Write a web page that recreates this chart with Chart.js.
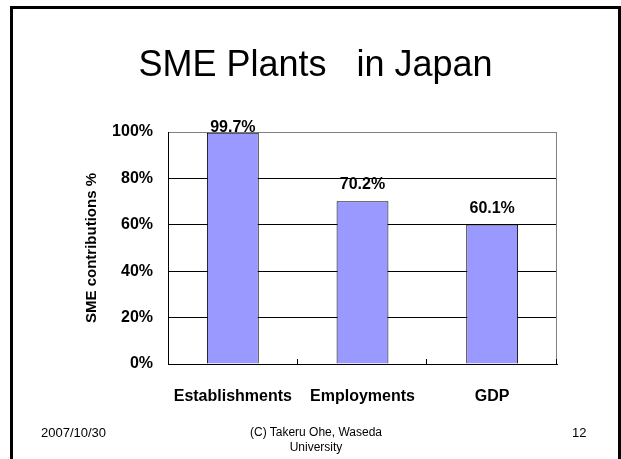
<!DOCTYPE html>
<html>
<head>
<meta charset="utf-8">
<script src="https://cdn.jsdelivr.net/npm/chart.js@4/dist/chart.umd.min.js"></script>
<style>
    body { margin: 0; background: #fff; font-family: 'Liberation Sans', Arial, sans-serif; }
    #slide { position: relative; width: 621px; height: 459px; overflow: hidden; }
    #frame { position: absolute; left: 10px; top: 6px; width: 611px; height: 520px; border: 3px solid #000; box-sizing: border-box; }
    #chart { position: absolute; left: 0; top: 0; }
    .txt { position: absolute; white-space: nowrap; color: #000; }
    #title { left: 0; width: 631px; text-align: center; top: 46px; font-size: 36px; line-height: 36px; }
    #date { left: 41px; top: 425px; font-size: 13px; line-height: 15px; }
    #credit { left: 216px; width: 200px; text-align: center; top: 425px; font-size: 12px; line-height: 15px; }
    #page { left: 572px; top: 425px; font-size: 13px; line-height: 15px; }
</style>
</head>
<body>
<div id="slide">
    <div id="frame"></div>
    <canvas id="chart" width="621" height="459"></canvas>
    <div class="txt" id="title">SME Plants&nbsp;&nbsp;&nbsp;in Japan</div>
    <div class="txt" id="date">2007/10/30</div>
    <div class="txt" id="credit">(C) Takeru Ohe, Waseda<br>University</div>
    <div class="txt" id="page">12</div>
</div>
<script>
const categories = ['Establishments', 'Employments', 'GDP'];
const smeShare = [99.7, 70.2, 60.1];
const yTicks = [0, 20, 40, 60, 80, 100];

const fontFamily = "'Liberation Sans', Arial, sans-serif";

// value labels above each bar
const valueLabels = {
    id: 'valueLabels',
    afterDatasetsDraw(chart) {
        const ctx = chart.ctx;
        const bars = chart.getDatasetMeta(0).data;
        ctx.save();
        ctx.font = 'bold 16px ' + fontFamily;
        ctx.fillStyle = '#000';
        ctx.textAlign = 'center';
        ctx.textBaseline = 'alphabetic';
        bars.forEach((bar, i) => {
            const y = Math.max(bar.y - 12, chart.chartArea.top);
            ctx.fillText(smeShare[i].toFixed(1) + '%', bar.x, y);
        });
        ctx.restore();
    }
};

// gray right border and short category ticks inside the plot
const plotFrame = {
    id: 'plotFrame',
    afterDraw(chart) {
        const ctx = chart.ctx;
        const area = chart.chartArea;
        const x = chart.scales.x;
        ctx.save();
        ctx.lineWidth = 1;
        ctx.strokeStyle = '#808080';
        ctx.beginPath();
        ctx.moveTo(area.right - 0.5, area.top);
        ctx.lineTo(area.right - 0.5, area.bottom);
        ctx.stroke();
        ctx.strokeStyle = '#000';
        ctx.beginPath();
        for (let i = 0; i < categories.length; i++) {
            const px = Math.round((x.getPixelForValue(i) + x.getPixelForValue(i + 1)) / 2) - 0.5;
            ctx.moveTo(px, area.bottom);
            ctx.lineTo(px, area.bottom - 5);
        }
        ctx.stroke();
        ctx.restore();
    }
};

new Chart(document.getElementById('chart').getContext('2d'), {
    type: 'bar',
    data: {
        labels: categories,
        datasets: [{
            data: smeShare,
            backgroundColor: '#9999FF',
            borderColor: '#000',
            borderWidth: 1,
            categoryPercentage: 1,
            barPercentage: 0.4
        }]
    },
    options: {
        responsive: false,
        animation: false,
        layout: { padding: { top: 132, left: 83, right: 64, bottom: 0 } },
        plugins: {
            legend: { display: false },
            tooltip: { enabled: false }
        },
        scales: {
            x: {
                afterFit: scale => { scale.height = 95; },
                grid: { drawOnChartArea: false, drawTicks: false },
                border: { color: '#000', width: 1 },
                ticks: {
                    color: '#000',
                    padding: 23,
                    font: { family: fontFamily, size: 16, weight: 'bold' }
                }
            },
            y: {
                min: 0,
                max: 100,
                afterFit: scale => { scale.width = 85; },
                afterBuildTicks: scale => { scale.ticks = yTicks.map(v => ({ value: v })); },
                grid: {
                    drawTicks: false,
                    color: c => c.tick && c.tick.value === 100 ? '#808080' : '#000'
                },
                border: { color: '#000', width: 1 },
                ticks: {
                    color: '#000',
                    padding: 15,
                    font: { family: fontFamily, size: 16, weight: 'bold' },
                    callback: v => v + '%'
                },
                title: {
                    display: true,
                    text: 'SME contributions %',
                    color: '#000',
                    padding: 0,
                    font: { family: fontFamily, size: 15, weight: 'bold' }
                }
            }
        }
    },
    plugins: [valueLabels, plotFrame]
});
</script>
</body>
</html>
